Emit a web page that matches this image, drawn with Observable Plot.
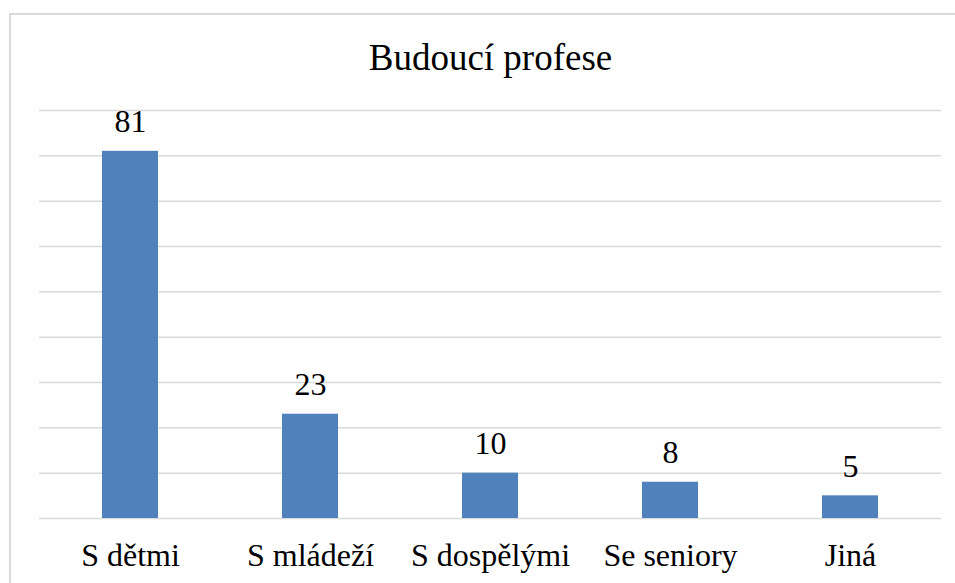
<!DOCTYPE html>
<html>
<head>
<meta charset="utf-8">
<script src="https://cdn.jsdelivr.net/npm/d3@7"></script>
<script src="https://cdn.jsdelivr.net/npm/@observablehq/plot@0.6"></script>
<style>
  html, body { margin: 0; padding: 0; background: #fff; overflow: hidden; font-family: "Liberation Serif"; }
  #wrap { position: relative; width: 955px; height: 583px; overflow: hidden; }
  #border { position: absolute; left: 9px; top: 13px; width: 1000px; height: 700px;
            border-left: 2px solid #d9d9d9; border-top: 2px solid #d9d9d9; }
  #chart { position: absolute; left: 0; top: 0; }
  .budchart text { font-family: "Liberation Serif" !important; }
</style>
</head>
<body>
<div id="wrap"><div id="border"></div><div id="chart"></div></div>
<script>
const title = "Budoucí profese";
const categories = ["S dětmi", "S mládeží", "S dospělými", "Se seniory", "Jiná"];
const values = [81, 23, 10, 8, 5];
const gridTicks = [0, 10, 20, 30, 40, 50, 60, 70, 80, 90];

const data = categories.map((c, i) => ({category: c, value: values[i]}));
const font = "Liberation Serif";

const chart = Plot.plot({
  className: "budchart",
  width: 955,
  height: 583,
  marginTop: 110,
  marginBottom: 65,
  marginLeft: 39,
  marginRight: 14,
  x: {domain: categories, paddingInner: 0.69, paddingOuter: 0.345, label: null},
  y: {domain: [0, 90], axis: null},
  marks: [
    Plot.ruleY(gridTicks, {stroke: "#d9d9d9", strokeWidth: 1.5}),
    Plot.barY(data, {x: "category", y: "value", fill: "#4f81bd"}),
    Plot.text(data, {x: "category", y: "value", text: d => String(d.value),
      lineAnchor: "bottom", dy: -19, fontSize: 32, fontFamily: font, fill: "#000"}),
    Plot.axisX({tickSize: 0, tickPadding: 25, fontSize: 32, fontFamily: font, label: null, fill: "#000"}),
    Plot.text([title], {frameAnchor: "top", text: d => d, lineAnchor: "bottom",
      dy: -41, fontSize: 37, fontFamily: font, fill: "#000"})
  ]
});
chart.style.background = "transparent";
chart.setAttribute("font-family", font);
chart.querySelectorAll("text").forEach(t => t.style.fontFamily = "'Liberation Serif'");
document.getElementById("chart").appendChild(chart);
</script>
</body>
</html>
